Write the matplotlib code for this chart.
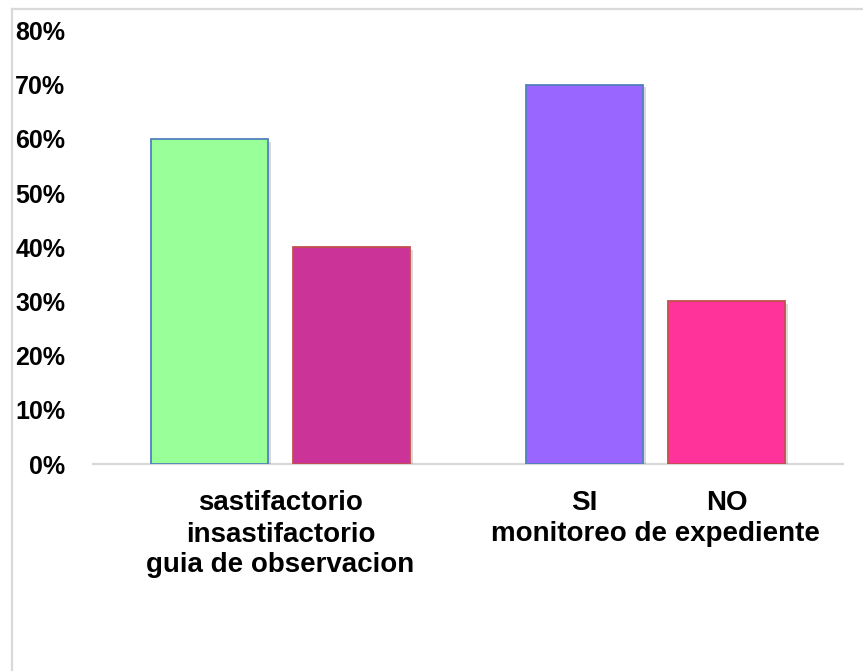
import matplotlib
matplotlib.use("Agg")
import matplotlib.pyplot as plt
from matplotlib.lines import Line2D
from matplotlib import patheffects as pe
import numpy as np

# ---- data ----
groups = ["guia de observacion", "monitoreo de expediente"]
first_labels = ["sastifactorio", "SI"]
second_labels = ["insastifactorio", "NO"]
first_values = [0.60, 0.70]
second_values = [0.40, 0.30]
first_colors = ["#99FF99", "#9966FF"]
second_colors = ["#CC3399", "#FF3399"]
y_ticks = [0.0, 0.1, 0.2, 0.3, 0.4, 0.5, 0.6, 0.7, 0.8]
y_tick_labels = ["0%", "10%", "20%", "30%", "40%", "50%", "60%", "70%", "80%"]
# whether the two bar labels of a group are stacked under the group centre
stacked = [True, False]

plt.rcParams["font.family"] = ["Liberation Sans", "DejaVu Sans"]

W, H = 863, 671
fig = plt.figure(figsize=(W / 100, H / 100), dpi=100)
fig.patch.set_facecolor("white")

# chart-area frame (left and top edges)
frame_kw = dict(color="#D9D9D9", lw=1.6, transform=fig.transFigure)
fig.add_artist(Line2D([11.5 / W, 11.5 / W], [0, 1 - 9 / H], **frame_kw))
fig.add_artist(Line2D([11.5 / W, 1], [1 - 9 / H, 1 - 9 / H], **frame_kw))

ax = fig.add_axes([93 / W, (H - 464) / H, 750 / W, (464 - 30.4) / H])

x = np.arange(len(groups))
width = 117 / 375
offset = 71 / 375
shadow = [pe.SimplePatchShadow(offset=(2, -2), shadow_rgbFace="#000000", alpha=0.15), pe.Normal()]

b1 = ax.bar(x - offset, first_values, width, color=first_colors,
            edgecolor="#4F81BD", linewidth=1.3, zorder=3)
b2 = ax.bar(x + offset, second_values, width, color=second_colors,
            edgecolor="#C0504D", linewidth=1.3, zorder=3)
for bar in list(b1) + list(b2):
    bar.set_path_effects(shadow)

ax.set_xlim(-0.5, len(groups) - 0.5)
ax.set_ylim(0, 0.8)
ax.set_yticks(y_ticks)
ax.set_yticklabels(y_tick_labels, fontsize=18, fontweight="bold")
ax.tick_params(axis="y", length=0, pad=20)
ax.set_xticks([])
for side in ("left", "right", "top"):
    ax.spines[side].set_visible(False)
ax.spines["bottom"].set_color("#D9D9D9")
ax.spines["bottom"].set_linewidth(1.6)

# category labels under the axis (baseline offsets in pixels)
line_px = [46, 78, 108]
txt_kw = dict(xycoords=("data", "axes fraction"), textcoords="offset points",
              ha="center", va="baseline", fontsize=20, fontweight="bold")
for i, grp in enumerate(groups):
    if stacked[i]:
        ax.annotate(first_labels[i], xy=(x[i], 0), xytext=(0, -line_px[0] * 0.72), **txt_kw)
        ax.annotate(second_labels[i], xy=(x[i], 0), xytext=(0, -line_px[1] * 0.72), **txt_kw)
        ax.annotate(grp, xy=(x[i], 0), xytext=(0, -line_px[2] * 0.72), **txt_kw)
    else:
        ax.annotate(first_labels[i], xy=(x[i] - offset, 0), xytext=(0, -line_px[0] * 0.72), **txt_kw)
        ax.annotate(second_labels[i], xy=(x[i] + offset, 0), xytext=(0, -line_px[0] * 0.72), **txt_kw)
        ax.annotate(grp, xy=(x[i], 0), xytext=(0, -(line_px[1] - 1) * 0.72), **txt_kw)

fig.savefig("out.png", dpi=100, facecolor="white")
